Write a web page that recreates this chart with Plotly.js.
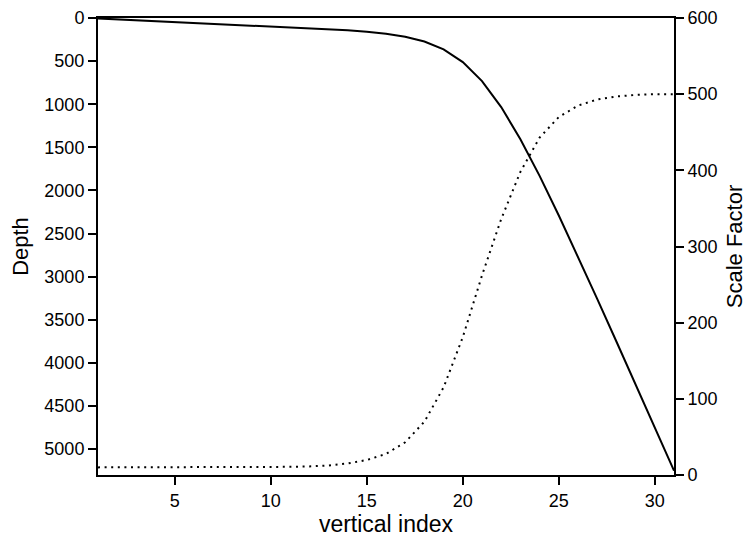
<!DOCTYPE html>
<html>
<head>
<meta charset="utf-8">
<script src="https://cdn.plot.ly/plotly-3.0.1.min.js"></script>
<style>html,body{margin:0;padding:0;background:#fff;}#chart{width:750px;height:541px;}</style>
</head>
<body>
<div id="chart"></div>
<script>
const levels = [1,2,3,4,5,6,7,8,9,10,11,12,13,14,15,16,17,18,19,20,21,22,23,24,25,26,27,28,29,30,31];
const depth = [5,15,25,35,45,55,65,75,85,95,106,117,129,142,159,182,217,273,364,512,732,1033,1406,1831,2290,2768,3257,3752,4250,4750,5250];
const scaleFactor = [10,10,10,10,10,10,10,10,10,10.3,10.7,11.3,12.5,15.1,19.7,27.6,43,70,115,181,262,336,398,443,470,485,493,497,499,500,500];
const xTicks = [5,10,15,20,25,30];

const FONT = 'Liberation Sans, Arial, sans-serif';

const traces = [
  {x: levels, y: depth, type: 'scatter', mode: 'lines', yaxis: 'y',
   line: {color: '#000', width: 2}, hoverinfo: 'skip'},
  {x: levels, y: scaleFactor, type: 'scatter', mode: 'lines', yaxis: 'y2',
   line: {color: '#000', width: 2, dash: '2px,4.6px'}, hoverinfo: 'skip'}
];

const axCommon = {
  showgrid: false, zeroline: false, showline: true, linecolor: '#000', linewidth: 2,
  ticks: 'outside', ticklen: 8, tickwidth: 2, tickcolor: '#000',
  tickfont: {family: FONT, size: 18, color: '#000'}
};

const layout = {
  width: 750, height: 541,
  margin: {l: 98, r: 76, t: 18, b: 66},
  paper_bgcolor: '#fff', plot_bgcolor: '#fff',
  showlegend: false,
  xaxis: Object.assign({}, axCommon, {
    range: [1, 31], tickvals: xTicks, mirror: true,
    title: {text: 'vertical index', font: {family: FONT, size: 23, color: '#000'}, standoff: 4}
  }),
  yaxis: Object.assign({}, axCommon, {
    range: [5300, 0], tick0: 0, dtick: 500,
    title: {text: 'Depth', font: {family: FONT, size: 22, color: '#000'}, standoff: 10}
  }),
  yaxis2: Object.assign({}, axCommon, {
    overlaying: 'y', side: 'right', range: [0, 600], tick0: 0, dtick: 100,
    title: {text: 'Scale Factor', font: {family: FONT, size: 22, color: '#000'}, standoff: 10}
  })
};

Plotly.newPlot('chart', traces, layout, {displayModeBar: false, staticPlot: true});
</script>
</body>
</html>
